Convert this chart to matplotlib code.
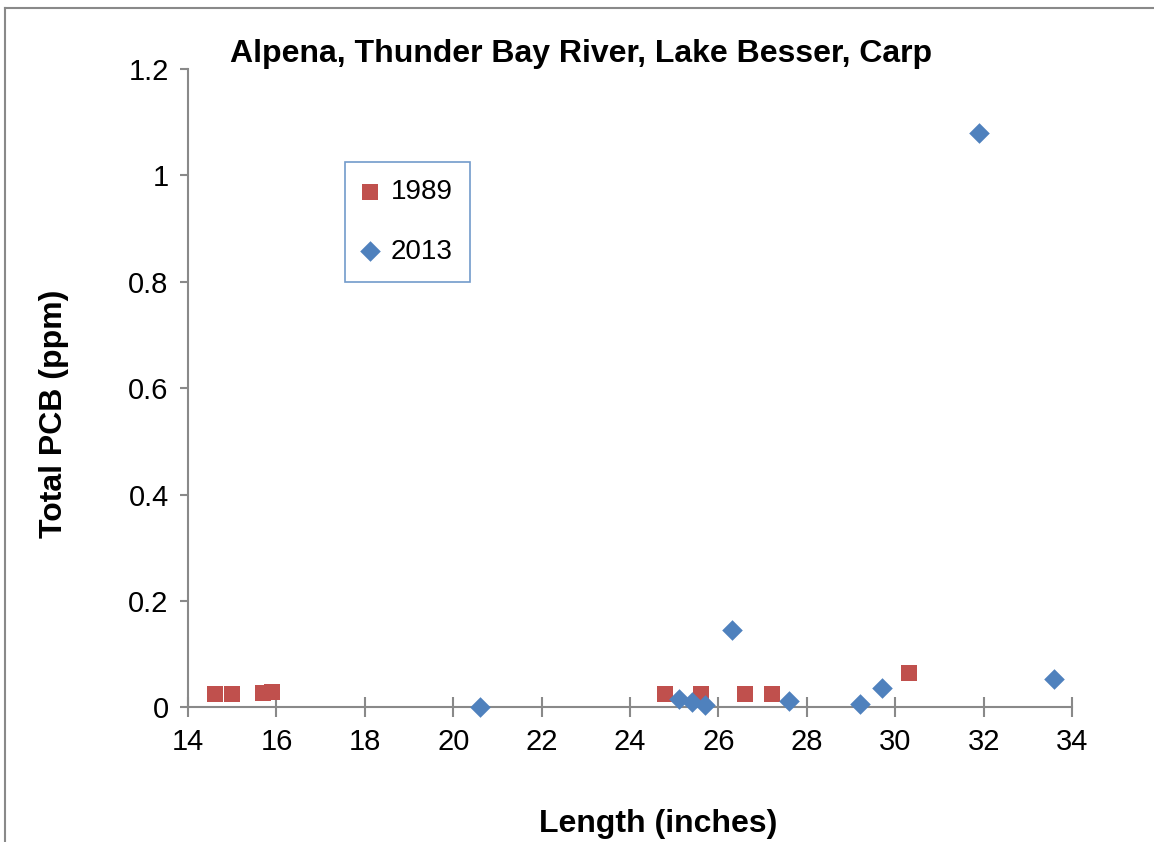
import matplotlib
matplotlib.use('Agg')
import matplotlib.pyplot as plt
from matplotlib.lines import Line2D

plt.rcParams['font.family'] = ['Liberation Sans', 'DejaVu Sans']

# PCB samples, carp from Lake Besser
len_1989 = [14.6, 15.0, 15.7, 15.9, 24.8, 25.6, 26.6, 27.2, 30.3]
pcb_1989 = [0.025, 0.025, 0.026, 0.028, 0.025, 0.025, 0.025, 0.025, 0.065]

len_2013 = [20.6, 25.1, 25.4, 25.7, 26.3, 27.6, 29.2, 29.7, 31.9, 33.6]
pcb_2013 = [0.001, 0.016, 0.010, 0.005, 0.146, 0.012, 0.006, 0.036, 1.08, 0.054]

x_ticks = list(range(14, 35, 2))
y_ticks = [0, 0.2, 0.4, 0.6, 0.8, 1, 1.2]
y_labels = ['0', '0.2', '0.4', '0.6', '0.8', '1', '1.2']

fig = plt.figure(figsize=(11.54, 8.42), dpi=100)
ax = fig.add_axes([0.163, 0.160, 0.766, 0.758])

ax.scatter(len_1989, pcb_1989, marker='s', s=145, color='#C0504D',
           linewidths=0, label='1989', zorder=3, clip_on=False)
ax.scatter(len_2013, pcb_2013, marker='D', s=110, color='#4F81BD',
           linewidths=0, label='2013', zorder=3, clip_on=False)

ax.set_xlim(14, 34)
ax.set_ylim(0, 1.2)
ax.set_xticks(x_ticks)
ax.set_yticks(y_ticks)
ax.set_yticklabels(y_labels)

for side in ['top', 'right']:
    ax.spines[side].set_visible(False)
for side in ['left', 'bottom']:
    ax.spines[side].set_color('#898989')
    ax.spines[side].set_linewidth(1.5)
ax.tick_params(axis='both', direction='out', length=6, width=1.5,
               color='#898989', labelsize=21, pad=8)
ax.tick_params(axis='x', direction='inout', length=14)

ax.set_title('Alpena, Thunder Bay River, Lake Besser, Carp',
             fontsize=23, fontweight='bold', pad=0)
ax.title.set_position((0.445, 1.008))
ax.set_xlabel('Length (inches)', fontsize=23, fontweight='bold')
ax.xaxis.set_label_coords(0.532, -0.16)
ax.set_ylabel('Total PCB (ppm)', fontsize=23, fontweight='bold')
ax.yaxis.set_label_coords(-0.135, 0.46)

leg = ax.legend(loc='upper left', bbox_to_anchor=(0.178, 0.854), fontsize=20,
                frameon=True, fancybox=False, handlelength=0.5,
                handletextpad=0.5, labelspacing=1.2, borderpad=0.62,
                borderaxespad=0)
leg.get_frame().set_edgecolor('#4F81BD')
leg.get_frame().set_linewidth(1.2)

# chart area border
fig.add_artist(Line2D([0.0045, 0.0045], [0, 0.991], color='#898989', lw=1.5))
fig.add_artist(Line2D([0.0045, 1], [0.991, 0.991], color='#898989', lw=1.5))

fig.savefig('out.png', dpi=100)
